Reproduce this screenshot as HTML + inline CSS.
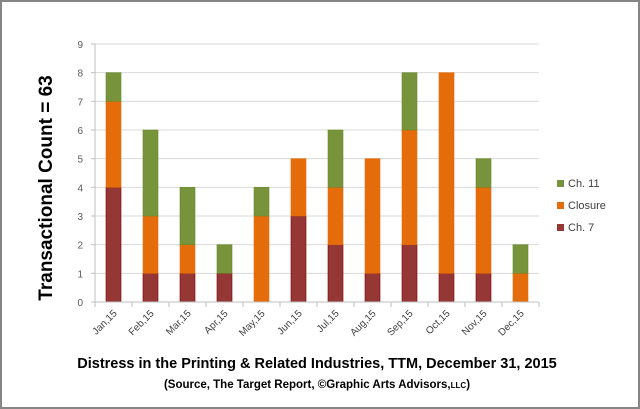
<!DOCTYPE html>
<html><head><meta charset="utf-8"><style>
body{margin:0;background:#fff}
svg{display:block;font-family:"Liberation Sans",sans-serif}
</style></head><body>
<svg width="640" height="409">
<rect x="1" y="1" width="638" height="407" fill="#fff" stroke="#868686" stroke-width="2"/>
<g id="grid"></g><g id="bars"></g><g id="axes"></g>
<text x="47" y="188" transform="rotate(-90 47 188)" text-anchor="middle" dominant-baseline="middle" font-size="19" font-weight="bold" fill="#000">Transactional Count = 63</text>
<text x="317" y="368" text-anchor="middle" font-size="14.5" font-weight="bold" fill="#000">Distress in the Printing &amp; Related Industries,  TTM, December 31, 2015</text>
<text x="317" y="388" text-anchor="middle" font-size="11.5" font-weight="bold" fill="#000">(Source, The Target Report, ©Graphic Arts Advisors,<tspan font-size="8">LLC</tspan>)</text>
<g>
<rect x="557" y="180" width="7" height="7" fill="#77933c"/>
<text x="568" y="187" font-size="11" fill="#404040">Ch. 11</text>
<rect x="557" y="202" width="7" height="7" fill="#e46c0a"/>
<text x="568" y="209" font-size="11" fill="#404040">Closure</text>
<rect x="557" y="224" width="7" height="7" fill="#953735"/>
<text x="568" y="231" font-size="11" fill="#404040">Ch. 7</text>
</g>
</svg>
<script>
const categories=["Jan,15","Feb,15","Mar,15","Apr,15","May,15","Jun,15","Jul,15","Aug,15","Sep,15","Oct,15","Nov,15","Dec,15"];
const ch7=[4,1,1,1,0,3,2,1,2,1,1,0];
const closure=[3,2,1,0,3,2,2,4,4,7,3,1];
const ch11=[1,3,2,1,1,0,2,0,2,0,1,1];
const yTicks=[0,1,2,3,4,5,6,7,8,9];
const NS="http://www.w3.org/2000/svg";
const X0=95,X1=539,Y0=302,Y9=44,YMAX=9;
const cw=(X1-X0)/categories.length;
const y=v=>Y0-(Y0-Y9)*v/YMAX;
const xc=i=>X0+cw*(i+0.5);
function mk(t,a,p){const e=document.createElementNS(NS,t);for(const k in a)e.setAttribute(k,a[k]);p.appendChild(e);return e;}
const grid=document.getElementById('grid'),bars=document.getElementById('bars'),axes=document.getElementById('axes');
yTicks.forEach(t=>{
  if(t>0){const l=mk('line',{x1:X0,x2:X1,y1:y(t),y2:y(t),stroke:'#d9d9d9','stroke-width':1},grid);
  
  }
  const tx=mk('text',{x:X0-12,y:y(t)+4,'text-anchor':'end','font-size':10,fill:'#595959'},axes);
  tx.textContent=t;
  
  
});
const series=[[ch7,'#953735','#7f0000','ch7'],[closure,'#e46c0a','#e46c0a','closure'],[ch11,'#77933c','#6a8a2a','ch11']];
categories.forEach((c,i)=>{
  let base=0;
  series.forEach(([vals,fill,st,name])=>{
    const v=vals[i];
    if(v>0){const r=mk('rect',{x:xc(i)-7.5,width:15,y:y(base+v),height:y(base)-y(base+v),fill:fill,stroke:st,'stroke-width':0.6},bars);
    
    }
    base+=v;
  });
  const tk=mk('line',{x1:X0+cw*(i+1),x2:X0+cw*(i+1),y1:Y0,y2:Y0+5,stroke:'#bfbfbf'},axes);
  
  
  const lx=xc(i)+4,ly=Y0+12;
  const t=mk('text',{x:lx,y:ly,'text-anchor':'end','font-size':10,fill:'#404040',transform:`rotate(-45 ${lx} ${ly})`},axes);
  t.textContent=c;
  
  
});
const xa=mk('line',{x1:X0,x2:X1,y1:Y0,y2:Y0,stroke:'#bfbfbf'},axes);


const ya=mk('line',{x1:X0,x2:X0,y1:Y9,y2:Y0+5,stroke:'#bfbfbf'},axes);


yTicks.forEach(t=>{const k=mk('line',{x1:X0-4,x2:X0,y1:y(t),y2:y(t),stroke:'#bfbfbf'},axes);

});
</script>
</body></html>
